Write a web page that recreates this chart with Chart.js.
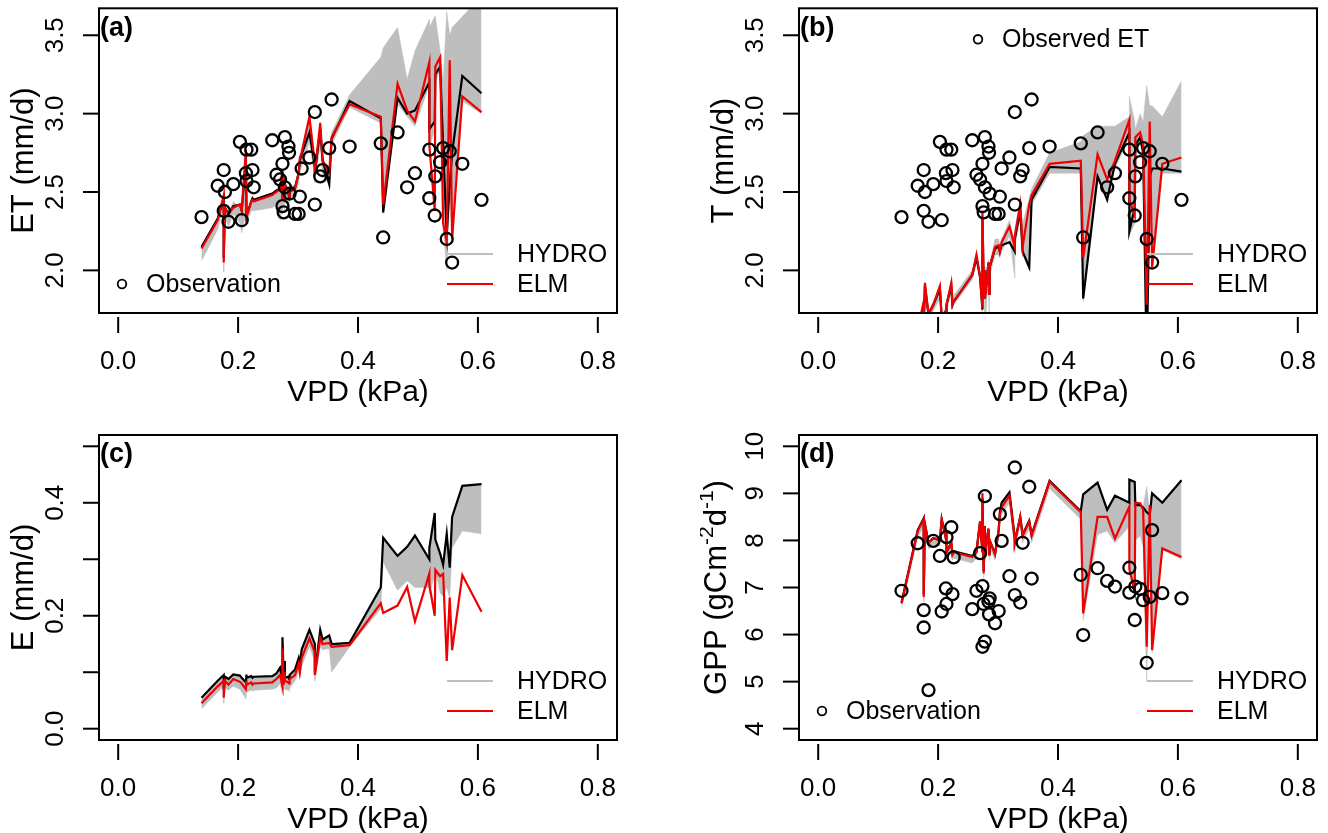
<!DOCTYPE html>
<html>
<head>
<meta charset="utf-8">
<script src="https://cdn.jsdelivr.net/npm/chart.js@4.4.1/dist/chart.umd.min.js"></script>
<style>
  html, body { margin: 0; padding: 0; background: #fff; }
  #wrap { position: relative; width: 1328px; height: 833px; overflow: hidden; }
  canvas { position: absolute; }
</style>
</head>
<body>
<div id="wrap">
  <canvas id="panelA" width="700" height="420" style="left:0;top:0"></canvas>
  <canvas id="panelB" width="628" height="420" style="left:700px;top:0"></canvas>
  <canvas id="panelC" width="700" height="413" style="left:0;top:420px"></canvas>
  <canvas id="panelD" width="628" height="413" style="left:700px;top:420px"></canvas>
</div>
<script>
// Daily vapour pressure deficit (kPa), sorted ascending
const vpd = [0.139,0.166,0.176,0.176,0.178,0.184,0.192,0.203,0.206,0.213,0.214,0.214,0.222,0.224,0.226,0.257,0.264,0.270,0.274,0.274,0.276,0.278,0.278,0.284,0.285,0.286,0.295,0.301,0.303,0.306,0.319,0.328,0.328,0.337,0.341,0.352,0.356,0.386,0.438,0.442,0.466,0.482,0.495,0.519,0.519,0.528,0.529,0.537,0.542,0.548,0.553,0.557,0.574,0.606];

// Observations
const obsET = [2.34,2.54,2.64,2.38,2.50,2.31,2.55,2.82,2.32,2.62,2.77,2.57,2.77,2.64,2.53,2.83,2.61,2.58,2.68,2.41,2.37,2.85,2.53,2.79,2.75,2.49,2.36,2.36,2.47,2.65,2.72,3.01,2.42,2.60,2.64,2.78,3.09,2.79,2.81,2.21,2.88,2.53,2.62,2.77,2.46,2.35,2.60,2.69,2.78,2.20,2.76,2.05,2.68,2.45];
const obsGPP = [6.93,7.94,6.52,6.15,null,4.82,7.99,7.67,6.49,6.98,6.65,8.07,8.28,6.86,7.64,6.54,6.93,7.73,7.03,5.74,6.65,5.85,8.94,6.70,6.43,6.77,6.24,6.50,8.56,7.99,7.24,9.55,6.84,6.68,7.95,9.14,7.19,null,7.27,5.99,7.41,7.14,7.02,6.89,7.42,6.31,7.02,6.97,6.73,5.40,6.80,8.22,6.88,6.77];

// (a) ET: ELM, HYDRO default run, HYDRO ensemble range
const etElm = [2.14,2.32,2.48,2.05,2.40,2.36,2.40,2.42,2.38,2.77,2.40,2.34,2.44,2.45,2.44,2.48,2.50,2.52,2.64,2.45,2.60,2.44,2.55,2.50,2.47,2.50,2.52,2.62,2.72,2.75,2.98,2.68,2.62,2.94,2.70,2.62,2.85,3.06,2.98,2.42,3.19,3.02,2.95,3.33,2.80,2.38,3.30,3.36,2.30,2.18,3.34,2.20,3.11,3.01];
const etHydro = [2.15,2.33,2.46,2.08,2.40,2.36,2.41,2.42,2.38,2.70,2.41,2.35,2.44,2.46,2.45,2.49,2.51,2.52,2.58,2.46,2.55,2.45,2.55,2.50,2.46,2.52,2.53,2.62,2.70,2.74,2.88,2.66,2.62,2.90,2.70,2.55,2.84,3.08,2.97,2.37,3.10,3.00,3.02,3.20,2.90,2.95,3.25,3.30,2.80,2.23,2.55,2.75,3.24,3.13];
const etHydroMin = [2.06,2.26,2.40,1.99,2.34,2.28,2.36,2.30,2.24,2.36,2.34,2.30,2.38,2.38,2.38,2.40,2.42,2.32,2.40,2.36,2.44,2.38,2.46,2.42,2.38,2.46,2.48,2.55,2.62,2.66,2.82,2.58,2.56,2.80,2.60,2.55,2.80,3.04,2.94,2.36,3.06,2.98,2.92,3.18,2.78,2.90,3.20,3.28,2.28,2.00,2.50,2.18,3.08,3.00];
const etHydroMax = [2.14,2.32,2.48,2.06,2.42,2.36,2.44,2.40,2.38,2.77,2.40,2.34,2.44,2.46,2.45,2.49,2.51,2.52,2.64,2.46,2.60,2.46,2.56,2.50,2.48,2.54,2.54,2.64,2.73,2.77,3.00,2.70,2.64,2.95,2.72,2.64,2.88,3.12,3.36,3.42,3.55,3.22,3.40,3.60,3.55,3.62,3.62,3.40,3.20,3.65,3.50,3.55,3.62,3.75];

// (b) T
const tElm = [1.40,1.62,1.80,1.65,1.92,1.72,1.78,1.90,1.70,1.74,1.70,1.78,1.92,1.78,1.80,1.97,2.10,1.96,1.76,2.38,1.92,2.00,1.82,2.05,1.85,2.02,2.15,2.16,2.12,2.18,2.28,2.15,2.22,2.42,2.15,2.42,2.48,2.68,2.70,2.08,2.74,2.58,2.70,2.96,2.45,2.35,2.85,2.88,2.80,1.78,2.95,2.02,2.68,2.72];
const tHydro = [1.40,1.62,1.78,1.64,1.90,1.72,1.78,1.88,1.70,1.74,1.70,1.78,1.90,1.78,1.80,1.97,2.08,1.96,1.75,2.34,1.92,2.00,1.82,2.05,1.85,2.02,2.14,2.15,2.12,2.16,2.18,2.12,2.20,2.38,2.12,2.02,2.45,2.66,2.65,1.82,2.60,2.45,2.68,2.88,2.25,2.40,2.80,2.85,2.75,1.40,2.60,2.65,2.65,2.63];
const tHydroMin = [1.38,1.58,1.75,1.60,1.85,1.68,1.74,1.82,1.66,1.70,1.66,1.74,1.86,1.75,1.78,1.94,2.05,1.92,1.70,2.30,1.88,1.95,1.60,1.98,1.60,1.96,2.10,2.10,2.08,2.12,2.22,1.95,2.15,2.34,2.10,2.00,2.42,2.62,2.62,1.80,2.58,2.45,2.65,2.85,2.22,2.30,2.75,2.82,2.72,1.40,2.55,2.00,2.62,2.62];
const tHydroMax = [1.42,1.64,1.82,1.66,1.93,1.74,1.80,1.91,1.72,1.76,1.72,1.80,1.94,1.80,1.84,2.00,2.12,1.98,1.78,2.38,1.94,2.02,1.84,2.07,1.88,2.04,2.20,2.20,2.16,2.20,2.32,2.18,2.26,2.46,2.30,2.46,2.52,2.75,2.82,2.86,2.92,2.92,2.92,2.98,3.11,2.95,2.90,3.00,2.95,3.18,3.05,3.05,2.98,3.21];

// (c) E
const eElm = [0.045,0.075,0.085,0.055,0.085,0.078,0.088,0.083,0.080,0.070,0.085,0.078,0.082,0.078,0.080,0.082,0.088,0.095,0.075,0.142,0.078,0.100,0.085,0.082,0.080,0.088,0.095,0.115,0.100,0.125,0.160,0.135,0.095,0.160,0.150,0.152,0.145,0.148,0.222,0.205,0.218,0.251,0.190,0.275,0.255,0.200,0.281,0.270,0.274,0.120,0.232,0.139,0.272,0.207];
const eHydro = [0.055,0.085,0.095,0.068,0.092,0.088,0.096,0.094,0.090,0.082,0.096,0.090,0.093,0.090,0.092,0.093,0.098,0.108,0.085,0.162,0.095,0.120,0.090,0.092,0.088,0.095,0.105,0.125,0.110,0.140,0.175,0.150,0.098,0.175,0.158,0.165,0.150,0.152,0.250,0.338,0.306,0.322,0.342,0.300,0.320,0.382,0.335,0.310,0.290,0.345,0.285,0.375,0.430,0.433];
const eHydroMin = [0.035,0.065,0.075,0.045,0.072,0.068,0.075,0.070,0.065,0.052,0.068,0.065,0.068,0.066,0.068,0.070,0.072,0.080,0.060,0.130,0.068,0.085,0.070,0.068,0.066,0.072,0.085,0.100,0.090,0.110,0.145,0.120,0.085,0.145,0.140,0.142,0.100,0.145,0.212,0.295,0.245,0.262,0.250,0.250,0.240,0.270,0.280,0.240,0.235,0.250,0.230,0.320,0.350,0.345];
const eHydroMax = [0.055,0.085,0.095,0.068,0.092,0.088,0.096,0.094,0.090,0.082,0.096,0.090,0.093,0.090,0.092,0.093,0.098,0.108,0.085,0.162,0.095,0.120,0.090,0.092,0.088,0.095,0.105,0.125,0.110,0.140,0.175,0.150,0.098,0.175,0.158,0.165,0.150,0.152,0.250,0.338,0.306,0.322,0.342,0.300,0.320,0.382,0.335,0.310,0.290,0.345,0.285,0.375,0.430,0.433];

// (d) GPP
const gppElm = [6.66,8.20,8.45,6.80,8.35,7.95,8.05,8.00,8.45,8.05,8.20,7.75,7.95,7.70,7.75,7.65,7.75,8.40,7.75,9.00,7.30,8.30,7.70,8.25,7.70,8.00,7.70,8.20,8.55,8.70,8.95,8.00,7.95,8.50,8.10,8.40,8.10,9.25,8.60,6.45,8.50,8.50,8.04,8.72,7.40,6.91,8.80,8.79,8.65,5.74,8.75,5.67,7.83,7.65];
const gppHydro = [6.68,8.22,8.47,6.85,8.35,7.95,8.05,8.00,8.45,8.05,8.20,7.75,7.95,7.72,7.77,7.67,7.77,8.40,7.75,8.90,7.35,8.30,7.72,8.25,7.72,8.00,7.72,8.22,8.60,8.80,9.02,8.05,7.98,8.50,8.12,8.42,8.12,9.27,8.62,8.98,9.23,8.65,8.95,8.80,9.29,9.24,8.75,8.75,8.70,8.60,8.55,9.00,8.80,9.28];
const gppHydroMin = [6.55,8.05,8.30,6.70,8.22,7.82,7.92,7.88,8.32,7.92,8.08,7.62,7.82,7.58,7.62,7.52,7.62,8.25,7.60,8.75,7.18,8.15,7.58,8.10,7.58,7.86,7.58,8.05,8.40,8.55,8.80,7.75,7.80,8.35,7.95,8.25,7.95,9.10,8.45,6.30,8.12,8.20,7.95,8.30,7.30,6.85,8.00,8.10,7.85,5.00,7.90,5.60,7.80,7.60];
const gppHydroMax = [6.70,8.24,8.48,6.88,8.38,7.98,8.08,8.03,8.48,8.08,8.23,7.78,7.98,7.74,7.79,7.69,7.79,8.42,7.78,9.02,7.37,8.32,7.74,8.27,7.74,8.02,7.74,8.24,8.62,8.82,9.04,8.07,8.00,8.52,8.14,8.44,8.14,9.28,8.64,9.00,9.25,8.67,8.97,8.82,9.31,9.26,8.77,8.77,8.72,9.14,8.57,9.02,8.82,9.30];

// Axis ticks
const xTicks = [0, 0.2, 0.4, 0.6, 0.8];
const xTickLabels = ['0.0', '0.2', '0.4', '0.6', '0.8'];
const etTicks = [2.0, 2.5, 3.0, 3.5];
const etTickLabels = ['2.0', '2.5', '3.0', '3.5'];
const eTicks = [0, 0.1, 0.2, 0.3, 0.4, 0.5];
const eTickLabels = ['0.0', null, '0.2', null, '0.4', null];
const gppTicks = [4, 5, 6, 7, 8, 9, 10];
const gppTickLabels = ['4', '5', '6', '7', '8', '9', '10'];

const FONT = "'Liberation Sans', Arial, Helvetica, sans-serif";
const RED = '#f00000';
const GREY = '#bebebe';

const pts = (xs, ys) => xs.map((x, i) => ({ x: x, y: ys[i] }));

// Frame, axes, panel letter and legend, R-style
const panelFrame = {
  id: 'panelFrame',
  afterDatasetsDraw(chart, args, o) {
    const ctx = chart.ctx, a = chart.chartArea;
    const xs = chart.scales.x, ys = chart.scales.y;
    ctx.save();
    ctx.strokeStyle = '#000';
    ctx.fillStyle = '#000';
    ctx.lineWidth = 2;
    ctx.strokeRect(a.left, a.top, a.right - a.left, a.bottom - a.top);

    // x axis ticks and labels
    ctx.font = '26px ' + FONT;
    ctx.textAlign = 'center';
    ctx.textBaseline = 'alphabetic';
    xTicks.forEach((v, i) => {
      const px = xs.getPixelForValue(v);
      ctx.beginPath();
      ctx.moveTo(px, a.bottom + 4);
      ctx.lineTo(px, a.bottom + 20);
      ctx.stroke();
      ctx.fillText(xTickLabels[i], px, a.bottom + 56);
    });
    ctx.font = '30px ' + FONT;
    ctx.fillText('VPD (kPa)', (a.left + a.right) / 2, a.bottom + 88);

    // y axis ticks and rotated labels
    o.yTicks.forEach((v, i) => {
      const py = ys.getPixelForValue(v);
      ctx.beginPath();
      ctx.moveTo(a.left - 16, py);
      ctx.lineTo(a.left, py);
      ctx.stroke();
      const lab = o.yTickLabels[i];
      if (lab) {
        ctx.save();
        ctx.translate(a.left - 36, py);
        ctx.rotate(-Math.PI / 2);
        ctx.font = '26px ' + FONT;
        ctx.textAlign = 'center';
        ctx.fillText(lab, 0, 0);
        ctx.restore();
      }
    });

    // y axis title (pieces with optional superscripts)
    ctx.save();
    const midY = (a.top + a.bottom) / 2;
    ctx.translate(a.left + o.yTitleOffset, midY);
    ctx.rotate(-Math.PI / 2);
    ctx.textAlign = 'left';
    const parts = o.yTitle;
    let total = 0;
    parts.forEach(p => {
      ctx.font = (p.sup ? '21px ' : '31px ') + FONT;
      total += ctx.measureText(p.t).width;
    });
    let cx = -total / 2;
    parts.forEach(p => {
      ctx.font = (p.sup ? '21px ' : '31px ') + FONT;
      ctx.fillText(p.t, cx, p.sup ? -13 : 0);
      cx += ctx.measureText(p.t).width;
    });
    ctx.restore();

    // panel letter
    ctx.font = 'bold 27px ' + FONT;
    ctx.textAlign = 'left';
    ctx.textBaseline = 'middle';
    ctx.fillText(o.letter, a.left + 1, a.top + 20);

    // legend
    ctx.font = '25px ' + FONT;
    ctx.textBaseline = 'middle';
    if (o.obsLegend) {
      const L = o.obsLegend;
      const cxp = a.left + L.dx, cyp = L.fromTop ? a.top + L.dy : a.bottom - L.dy;
      ctx.lineWidth = 1.8;
      ctx.beginPath();
      ctx.arc(cxp, cyp, 4.3, 0, Math.PI * 2);
      ctx.stroke();
      ctx.fillText(L.text, cxp + 24, cyp + 1);
    }
    const lx0 = a.left + 348, lx1 = a.left + 394, tx = a.left + 418;
    ctx.lineWidth = 2;
    ctx.strokeStyle = GREY;
    ctx.beginPath(); ctx.moveTo(lx0, a.bottom - 59); ctx.lineTo(lx1, a.bottom - 59); ctx.stroke();
    ctx.fillText('HYDRO', tx, a.bottom - 58);
    ctx.strokeStyle = RED;
    ctx.beginPath(); ctx.moveTo(lx0, a.bottom - 29); ctx.lineTo(lx1, a.bottom - 29); ctx.stroke();
    ctx.fillText('ELM', tx, a.bottom - 28);
    ctx.restore();
  }
};

function makePanel(id, cfg) {
  return new Chart(document.getElementById(id), {
    type: 'line',
    data: {
      datasets: [
        { label: 'Observation', type: 'scatter', data: pts(vpd, cfg.obs || []), showLine: false,
          pointRadius: 6, pointBorderWidth: 2.3, pointBorderColor: '#000',
          pointBackgroundColor: 'rgba(0,0,0,0)', order: 0 },
        { label: 'ELM', data: pts(vpd, cfg.elm), borderColor: RED, borderWidth: 2.2,
          pointRadius: 0, fill: false, clip: 0, order: 1 },
        { label: 'HYDRO default', data: pts(vpd, cfg.hydro), borderColor: '#000', borderWidth: 2.2,
          pointRadius: 0, fill: false, clip: 0, order: 2 },
        { label: 'HYDRO min', data: pts(vpd, cfg.lo), borderColor: GREY, borderWidth: 0.5,
          pointRadius: 0, fill: false, clip: 0, order: 3 },
        { label: 'HYDRO max', data: pts(vpd, cfg.hi), borderColor: GREY, borderWidth: 0.5,
          backgroundColor: GREY, pointRadius: 0, fill: '-1', clip: 0, order: 4 }
      ]
    },
    options: {
      responsive: false,
      animation: false,
      devicePixelRatio: 1,
      events: [],
      layout: { padding: cfg.padding },
      elements: { line: { tension: 0 } },
      scales: {
        x: { type: 'linear', min: -0.032, max: 0.832, display: false },
        y: { type: 'linear', min: cfg.yMin, max: cfg.yMax, display: false }
      },
      plugins: {
        legend: { display: false },
        tooltip: { enabled: false },
        panelFrame: cfg.frame
      }
    },
    plugins: [panelFrame]
  });
}

makePanel('panelA', {
  obs: obsET, elm: etElm, hydro: etHydro, lo: etHydroMin, hi: etHydroMax,
  yMin: 1.728, yMax: 3.672,
  padding: { left: 99, top: 8, right: 83, bottom: 107 },
  frame: { letter: '(a)', yTicks: etTicks, yTickLabels: etTickLabels, yTitleOffset: -66,
           yTitle: [{ t: 'ET (mm/d)' }],
           obsLegend: { dx: 23, dy: 29, text: 'Observation' } }
});

makePanel('panelB', {
  obs: obsET, elm: tElm, hydro: tHydro, lo: tHydroMin, hi: tHydroMax,
  yMin: 1.728, yMax: 3.672,
  padding: { left: 99, top: 8, right: 11, bottom: 107 },
  frame: { letter: '(b)', yTicks: etTicks, yTickLabels: etTickLabels, yTitleOffset: -66,
           yTitle: [{ t: 'T (mm/d)' }],
           obsLegend: { dx: 179, dy: 31, fromTop: true, text: 'Observed ET' } }
});

makePanel('panelC', {
  obs: null, elm: eElm, hydro: eHydro, lo: eHydroMin, hi: eHydroMax,
  yMin: -0.02, yMax: 0.52,
  padding: { left: 99, top: 15, right: 83, bottom: 93 },
  frame: { letter: '(c)', yTicks: eTicks, yTickLabels: eTickLabels, yTitleOffset: -66,
           yTitle: [{ t: 'E (mm/d)' }] }
});

makePanel('panelD', {
  obs: obsGPP, elm: gppElm, hydro: gppHydro, lo: gppHydroMin, hi: gppHydroMax,
  yMin: 3.76, yMax: 10.24,
  padding: { left: 99, top: 15, right: 11, bottom: 93 },
  frame: { letter: '(d)', yTicks: gppTicks, yTickLabels: gppTickLabels, yTitleOffset: -73,
           yTitle: [{ t: 'GPP (gCm' }, { t: '-2', sup: true }, { t: 'd' }, { t: '-1', sup: true }, { t: ')' }],
           obsLegend: { dx: 23, dy: 29, text: 'Observation' } }
});
</script>
</body>
</html>
